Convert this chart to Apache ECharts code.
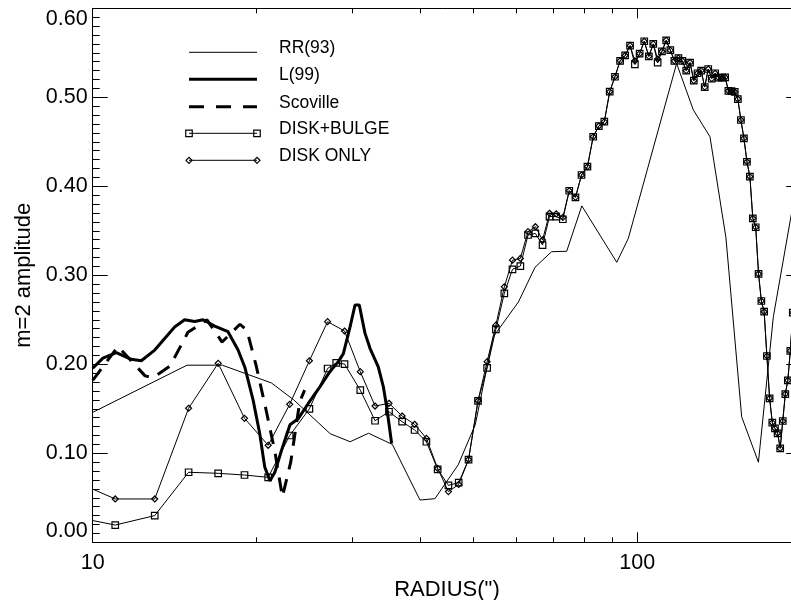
<!DOCTYPE html>
<html>
<head>
<meta charset="utf-8">
<title>m=2 amplitude vs radius</title>
<script src="https://cdn.jsdelivr.net/npm/echarts@6/dist/echarts.min.js"></script>
<style>
  html, body { margin: 0; padding: 0; background: #fff; }
  #chart { width: 791px; height: 600px; }
</style>
</head>
<body>
<div id="chart"></div>
<script>
// ---- data -------------------------------------------------------------
// RR(93): thin solid profile
const rrRadius = [10, 14.9, 17.3, 21.3, 23.4, 27.3, 29.7, 32.1, 35.5, 39.9, 42.5, 46.9, 50.4, 54.4,
  60.5, 64.9, 69.6, 74.2, 79.1, 91.7, 96.3, 118.1, 126.7, 136.0, 145.5, 155.5, 166.9, 177.8, 191.5, 200];
const rrValue = [0.146, 0.199, 0.199, 0.179, 0.160, 0.122, 0.113, 0.1225, 0.110, 0.0475, 0.049, 0.087, 0.132, 0.231,
  0.270, 0.309, 0.3265, 0.327, 0.378, 0.3146, 0.3416, 0.538, 0.486, 0.4557, 0.342, 0.141, 0.090, 0.2535, 0.366, 0.43];

// L(99): thick solid profile
const lRadius = [10.0, 10.44, 11.05, 11.77, 12.28, 13.0, 14.14, 14.75, 15.39, 15.94, 16.75, 17.72, 18.49, 19.02,
  19.7, 20.26, 20.69, 21.16, 21.61, 22.23, 23.03, 23.85, 24.88, 26.15, 27.28, 28.25, 28.86, 29.69, 30.32,
  30.87, 31.62, 32.3, 33.45, 34.17, 34.66, 35.4];
const lValue = [0.1955, 0.207, 0.213, 0.2056, 0.204, 0.216, 0.242, 0.250, 0.248, 0.250, 0.243, 0.2366, 0.216, 0.197,
  0.160, 0.1225, 0.085, 0.069, 0.079, 0.1037, 0.132, 0.139, 0.156, 0.175, 0.192, 0.203, 0.212, 0.242, 0.2666,
  0.2666, 0.235, 0.218, 0.197, 0.175, 0.152, 0.111];

// Scoville: thick dashed profile
const scovRadius = [10.0, 11.13, 12.48, 12.9, 13.87, 14.96, 16.21, 17.28, 18.64, 19.2, 19.95, 20.81, 21.61,
  22.3, 23.1, 24.0, 24.5];
const scovValue = [0.182, 0.220, 0.187, 0.185, 0.198, 0.236, 0.250, 0.225, 0.245, 0.238, 0.199, 0.149, 0.1015,
  0.051, 0.090, 0.158, 0.171];

// model profiles (square = disk+bulge, diamond = disk only); null = no sample
const diskRadius = [9, 11, 13, 15, 17, 19, 21, 23, 25, 27, 28, 29, 31, 33, 35, 37, 39, 41, 43, 45, 47, 49,
  51, 53, 55, 57, 59, 61, 63, 65, 67, 69, 71, 73, 75, 77, 79, 81, 83, 85, 87, 89, 91, 93, 95, 97, 99,
  101, 103, 105, 107, 109, 111, 113, 115, 117, 119, 121, 123, 125, 127, 129, 131, 133, 135, 137, 139,
  141, 143, 145, 147, 149, 151, 153, 155, 157, 159, 161, 163, 165, 167, 169, 171, 173, 175, 177, 179,
  181, 183, 185, 187, 189, 191, 193, 195];
const diskBulgeValue = [0.030, 0.0194, 0.030, 0.0787, 0.0775, 0.0756, 0.073, 0.120, 0.150, 0.1953, 0.2015, 0.2003,
  0.171, 0.1366, 0.1467, 0.1355, 0.1262, 0.113, 0.082, 0.064, 0.067, 0.093,
  0.159, 0.196, 0.2393, 0.2798, 0.3067, 0.3104, 0.3453, 0.347, 0.334, 0.366, 0.366, 0.363, 0.395, 0.3876,
  0.4127, 0.422, 0.4557, 0.4677, 0.4726, 0.5063, 0.5231, 0.541, 0.547, 0.558, 0.537,
  0.549, 0.563, 0.546, 0.560, 0.539, 0.5515, 0.564, 0.553, 0.541, 0.544, 0.541, 0.530, 0.539, 0.5187,
  0.527, 0.530, 0.5115, 0.5318, 0.521, 0.527,
  0.522, 0.522, 0.5225, 0.5073, 0.507, 0.506, 0.498, 0.4745, 0.4539, 0.4276, 0.4108, 0.364, 0.354, 0.3015,
  0.2711, 0.2591, 0.2093, 0.1618, 0.1344, 0.128,
  0.1225, 0.1056, 0.1363, 0.1666, 0.182, 0.215, 0.258, 0.300];
const diskOnlyValue = [0.072, 0.0487, 0.0487, 0.1506, 0.2011, 0.1393, 0.109, 0.155, 0.204, 0.2479, null, 0.2374,
  0.1917, 0.1531, 0.1562, 0.1419, 0.1326, 0.1168, 0.083, 0.057, 0.065, 0.093,
  0.159, 0.203, 0.244, 0.287, 0.317, 0.319, 0.349, 0.3546, 0.3397, 0.3697, 0.369, 0.365, 0.395, 0.3876,
  0.4127, 0.422, 0.4557, 0.4677, 0.4726, 0.5063, 0.5231, 0.541, 0.547, 0.558, 0.541,
  0.549, 0.563, 0.546, 0.560, 0.543, 0.5515, 0.564, 0.553, 0.541, 0.544, 0.541, 0.530, 0.539, 0.5187,
  0.527, 0.530, 0.5115, 0.5318, 0.521, 0.527,
  0.522, 0.522, 0.5225, 0.5073, 0.507, 0.506, 0.498, 0.4745, 0.4539, 0.4276, 0.4108, 0.364, 0.354, 0.3015,
  0.2711, 0.2591, 0.2093, 0.1618, 0.1344, 0.128,
  0.1225, 0.1056, 0.1363, 0.1666, 0.182, 0.215, 0.258, 0.300];

// axis ticks
const xMajorTicks = [10, 100];
const xMinorTicks = [20, 30, 40, 50, 60, 70, 80, 90, 200];

const legendLabels = ['RR(93)', 'L(99)', 'Scoville', 'DISK+BULGE', 'DISK ONLY'];

// ---- chart ------------------------------------------------------------
const FONT = '"Liberation Sans", Arial, Helvetica, sans-serif';
const zip = (xs, ys) => xs.map((x, i) => [x, ys[i]]).filter(p => p[1] !== null);

const chart = echarts.init(document.getElementById('chart'), null, { renderer: 'canvas' });

const X0 = 92.7, X1 = 801.2, Y0 = 8.3, Y1 = 542.3;

function xAxisDef(position, ticks, tickLen, withLabels, withLine) {
  return {
    type: 'log', logBase: 10, min: 10, max: 200, position: position,
    axisLine: { show: withLine, lineStyle: { color: '#000', width: 1 } },
    axisTick: { show: true, inside: true, length: tickLen, customValues: ticks,
                lineStyle: { color: '#000', width: 1 } },
    minorTick: { show: false },
    splitLine: { show: false },
    axisLabel: withLabels ? {
      show: true, customValues: ticks, margin: 10, color: '#000', fontSize: 21.5, fontFamily: FONT,
      formatter: v => String(Math.round(v))
    } : { show: false }
  };
}

const xAxes = [
  xAxisDef('bottom', xMajorTicks, 10, true, true),
  xAxisDef('bottom', xMinorTicks, 5, false, false),
  xAxisDef('top', xMajorTicks, 10, false, true),
  xAxisDef('top', xMinorTicks, 5, false, false)
];
Object.assign(xAxes[0], {
  name: 'RADIUS(")', nameLocation: 'middle', nameGap: 31,
  nameTextStyle: { color: '#000', fontSize: 22, fontFamily: FONT }
});

function yAxisDef(position, withLabels) {
  return {
    type: 'value', min: 0, max: 0.6, interval: 0.1, position: position,
    axisLine: { show: true, lineStyle: { color: '#000', width: 1 } },
    axisTick: { show: true, inside: true, length: 15, lineStyle: { color: '#000', width: 1 } },
    minorTick: { show: true, splitNumber: 10, length: 7, lineStyle: { color: '#000', width: 1 } },
    splitLine: { show: false },
    minorSplitLine: { show: false },
    axisLabel: withLabels ? {
      show: true, margin: 5, color: '#000', fontSize: 21.5, fontFamily: FONT,
      formatter: v => v.toFixed(2),
      verticalAlignMinLabel: 'bottom', verticalAlignMaxLabel: 'top'
    } : { show: false }
  };
}
const yAxes = [yAxisDef('left', true), yAxisDef('right', false)];
Object.assign(yAxes[0], {
  name: 'm=2 amplitude', nameLocation: 'middle', nameGap: 56,
  nameTextStyle: { color: '#000', fontSize: 22, fontFamily: FONT }
});

const base = { type: 'line', xAxisIndex: 0, yAxisIndex: 0, smooth: false, clip: true,
  emphasis: { disabled: true }, silent: true, animation: false };

const series = [
  Object.assign({}, base, { name: legendLabels[0], data: zip(rrRadius, rrValue), symbol: 'none',
    lineStyle: { color: '#000', width: 1 } }),
  Object.assign({}, base, { name: legendLabels[1], data: zip(lRadius, lValue), symbol: 'none',
    lineStyle: { color: '#000', width: 3 } }),
  Object.assign({}, base, { name: legendLabels[2], data: zip(scovRadius, scovValue), symbol: 'none',
    lineStyle: { color: '#000', width: 3, type: [14, 10] } }),
  Object.assign({}, base, { name: legendLabels[3], data: zip(diskRadius, diskBulgeValue),
    symbol: 'rect', symbolSize: 6.5, showAllSymbol: true,
    itemStyle: { color: 'rgba(0,0,0,0)', borderColor: '#000', borderWidth: 1.2 },
    lineStyle: { color: '#000', width: 1 } }),
  Object.assign({}, base, { name: legendLabels[4], data: zip(diskRadius, diskOnlyValue),
    symbol: 'diamond', symbolSize: 6, showAllSymbol: true,
    itemStyle: { color: 'rgba(0,0,0,0)', borderColor: '#000', borderWidth: 1.2 },
    lineStyle: { color: '#000', width: 1 } })
];

// hand-drawn key in the upper-left of the plot
const keyX1 = 189, keyX2 = 257, keyTextX = 279;
const keyRows = [52.3, 79.3, 106.7, 133.3, 160.3];
const keyGraphics = [];
keyRows.forEach((y, i) => {
  const lw = (i === 1 || i === 2) ? 3 : 1;
  const style = { stroke: '#000', lineWidth: lw };
  if (i === 2) style.lineDash = [15, 12];
  keyGraphics.push({ type: 'line', shape: { x1: keyX1, y1: y, x2: keyX2, y2: y }, style: style, silent: true });
  if (i === 3) {
    [keyX1, keyX2].forEach(cx => keyGraphics.push({ type: 'rect',
      shape: { x: cx - 3.25, y: y - 3.25, width: 6.5, height: 6.5 },
      style: { fill: 'none', stroke: '#000', lineWidth: 1.2 }, silent: true }));
  }
  if (i === 4) {
    [keyX1, keyX2].forEach(cx => keyGraphics.push({ type: 'polygon',
      shape: { points: [[cx - 3, y], [cx, y - 3], [cx + 3, y], [cx, y + 3]] },
      style: { fill: 'none', stroke: '#000', lineWidth: 1.2 }, silent: true }));
  }
  keyGraphics.push({ type: 'text', x: keyTextX, y: y - 4, silent: true,
    style: { text: legendLabels[i], fill: '#000', fontSize: 17.5, fontFamily: FONT,
             verticalAlign: 'middle', align: 'left' } });
});

chart.setOption({
  backgroundColor: '#fff',
  animation: false,
  textStyle: { fontFamily: FONT },
  grid: { left: X0, top: Y0, width: X1 - X0, height: Y1 - Y0, containLabel: false, outerBoundsMode: 'none' },
  xAxis: xAxes,
  yAxis: yAxes,
  series: series,
  graphic: keyGraphics
});
</script>
</body>
</html>
